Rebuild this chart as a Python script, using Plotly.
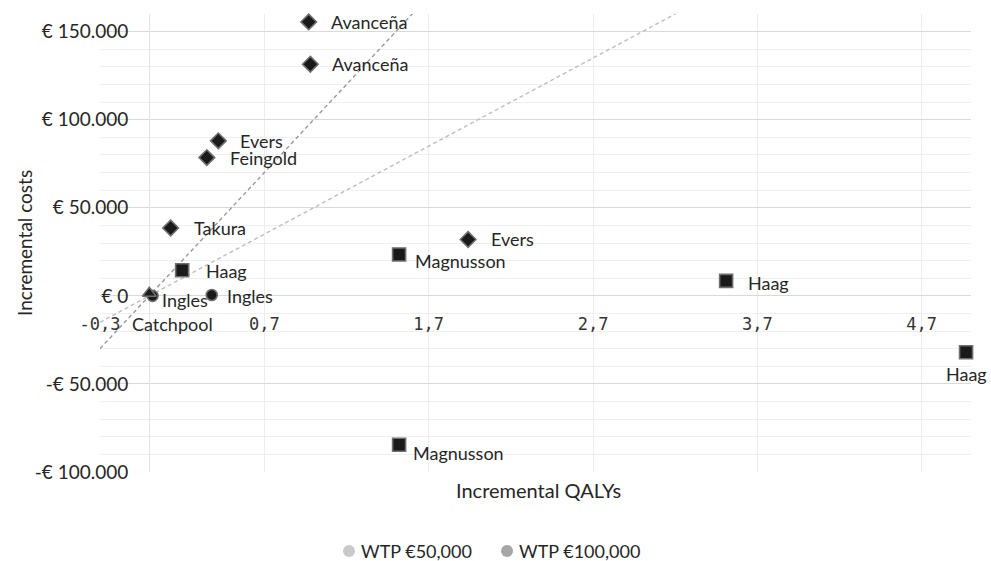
import plotly.graph_objects as go

# ---------------- data ----------------
diamond_x = [0.97, 0.98, 0.42, 0.35, 0.13, 1.94]
diamond_y = [155500, 131500, 88000, 78500, 38500, 32000]
diamond_labels = ["Avanceña", "Avanceña", "Evers", "Feingold", "Takura", "Evers"]

square_x = [0.20, 1.52, 3.51, 4.97, 1.52]
square_y = [14500, 23500, 8500, -32000, -84500]
square_labels = ["Haag", "Magnusson", "Haag", "Haag", "Magnusson"]

circle_x = [0.38, 0.02]
circle_y = [500, 0]
circle_labels = ["Ingles", "Ingles"]

triangle_x = [0.0]
triangle_y = [1500]
triangle_labels = ["Catchpool"]

wtp_values = [50000, 100000]
wtp_names = ["WTP €50,000", "WTP €100,000"]

x_tickvals = [-0.3, 0.7, 1.7, 2.7, 3.7, 4.7]
x_ticktext = ["-0,3", "0,7", "1,7", "2,7", "3,7", "4,7"]
y_tickvals = [150000, 100000, 50000, 0, -50000, -100000]
y_ticktext = ["€ 150.000", "€ 100.000", "€ 50.000", "€ 0", "-€ 50.000", "-€ 100.000"]

X_RANGE = [-0.3, 5.0]
Y_RANGE = [-100000, 160000]

# ---------------- label placement (style only) ----------------
# (xanchor, xshift, yshift)
diamond_lpos = [("left", 20, 0), ("left", 20, 0), ("left", 20, 0),
                ("left", 21, 0), ("left", 21, 0), ("left", 21, 0)]
square_lpos = [("left", 22, -1), ("left", 14, -7), ("left", 20, -2),
               ("center", 0, -22), ("left", 12, -8)]
circle_lpos = [("left", 13, -1), ("left", 7, -4)]
triangle_lpos = [("center", 23, -31)]

# legend placement (paper coords): marker x, text x, y
legend_mx = [0.2859, 0.4673]
legend_tx = [0.2990, 0.4795]
legend_y = -0.1725

FONT = "Lato, 'Open Sans', sans-serif"
TXT = "#262626"

fig = go.Figure()

line_colors = ["#bdbdbd", "#9a9a9a"]
legend_colors = ["#c9c9c9", "#a6a6a6"]
for w, nm, lc in zip(wtp_values, wtp_names, line_colors):
    fig.add_trace(go.Scatter(
        x=X_RANGE, y=[w * X_RANGE[0], w * X_RANGE[1]], mode="lines",
        line=dict(color=lc, width=1.4, dash="4px,3px"), name=nm,
        showlegend=False, hoverinfo="skip"))

mk_fill = "#1a1a1a"
mk_line = dict(color="#6e6e6e", width=1.6)
series = [
    (diamond_x, diamond_y, diamond_labels, diamond_lpos, "diamond", 12),
    (square_x, square_y, square_labels, square_lpos, "square", 13),
    (circle_x, circle_y, circle_labels, circle_lpos, "circle", 11),
    (triangle_x, triangle_y, triangle_labels, triangle_lpos, "triangle-up", 12),
]
annotations = []
for xs, ys, labs, lpos, sym, sz in series:
    fig.add_trace(go.Scatter(
        x=xs, y=ys, mode="markers", showlegend=False,
        marker=dict(symbol=sym, size=sz, color=mk_fill, line=mk_line),
        cliponaxis=False))
    for x, y, t, (xa, dx, dy) in zip(xs, ys, labs, lpos):
        annotations.append(dict(
            x=x, y=y, xref="x", yref="y", text=t, showarrow=False,
            xanchor=xa, yanchor="middle", xshift=dx, yshift=dy,
            font=dict(family=FONT, size=18, color=TXT)))

# axis titles
annotations.append(dict(
    text="Incremental QALYs", xref="paper", yref="paper",
    x=0.503, y=-0.039, xanchor="center", yanchor="middle", showarrow=False,
    font=dict(family=FONT, size=20, color=TXT)))
annotations.append(dict(
    text="Incremental costs", xref="paper", yref="paper",
    x=-0.0873, y=0.5, xanchor="center", yanchor="middle", showarrow=False,
    textangle=-90, font=dict(family=FONT, size=19, color=TXT)))

# legend (marker dot + text)
shapes = []
for nm, col, mx, tx in zip(wtp_names, legend_colors, legend_mx, legend_tx):
    shapes.append(dict(
        type="circle", xref="paper", yref="paper",
        xsizemode="pixel", ysizemode="pixel", xanchor=mx, yanchor=legend_y,
        x0=-6, x1=6, y0=-6, y1=6,
        fillcolor=col, line=dict(width=0)))
    annotations.append(dict(
        text=nm, xref="paper", yref="paper", x=tx, y=legend_y,
        xanchor="left", yanchor="middle", showarrow=False, borderpad=0,
        font=dict(family=FONT, size=18, color=TXT)))

x_pos = (0 - Y_RANGE[0]) / (Y_RANGE[1] - Y_RANGE[0])
y_pos = (0 - X_RANGE[0]) / (X_RANGE[1] - X_RANGE[0])

fig.update_layout(
    width=991, height=561,
    margin=dict(l=100, r=20, t=14, b=89),
    paper_bgcolor="white", plot_bgcolor="white",
    annotations=annotations, shapes=shapes,
    xaxis=dict(
        range=X_RANGE, tickvals=x_tickvals, ticktext=x_ticktext,
        anchor="free", position=x_pos,
        showgrid=True, gridcolor="#ececec", gridwidth=1.3,
        zeroline=True, zerolinecolor="#e2e2e2", zerolinewidth=1.4,
        showline=False, ticks="", ticklabelstandoff=16,
        tickfont=dict(family="'DejaVu Sans Mono', monospace", size=17, color="#333333")),
    yaxis=dict(
        range=Y_RANGE, tickvals=y_tickvals, ticktext=y_ticktext,
        anchor="free", position=y_pos,
        showgrid=True, gridcolor="#d9d9d9", gridwidth=1.3,
        zeroline=True, zerolinecolor="#d9d9d9", zerolinewidth=1.3,
        minor=dict(dtick=10000, showgrid=True, gridcolor="#efefef", gridwidth=1.3),
        showline=False, ticks="", ticklabelstandoff=21,
        tickfont=dict(family=FONT, size=19, color=TXT)),
    showlegend=False,
)

fig.write_html("out.html")
